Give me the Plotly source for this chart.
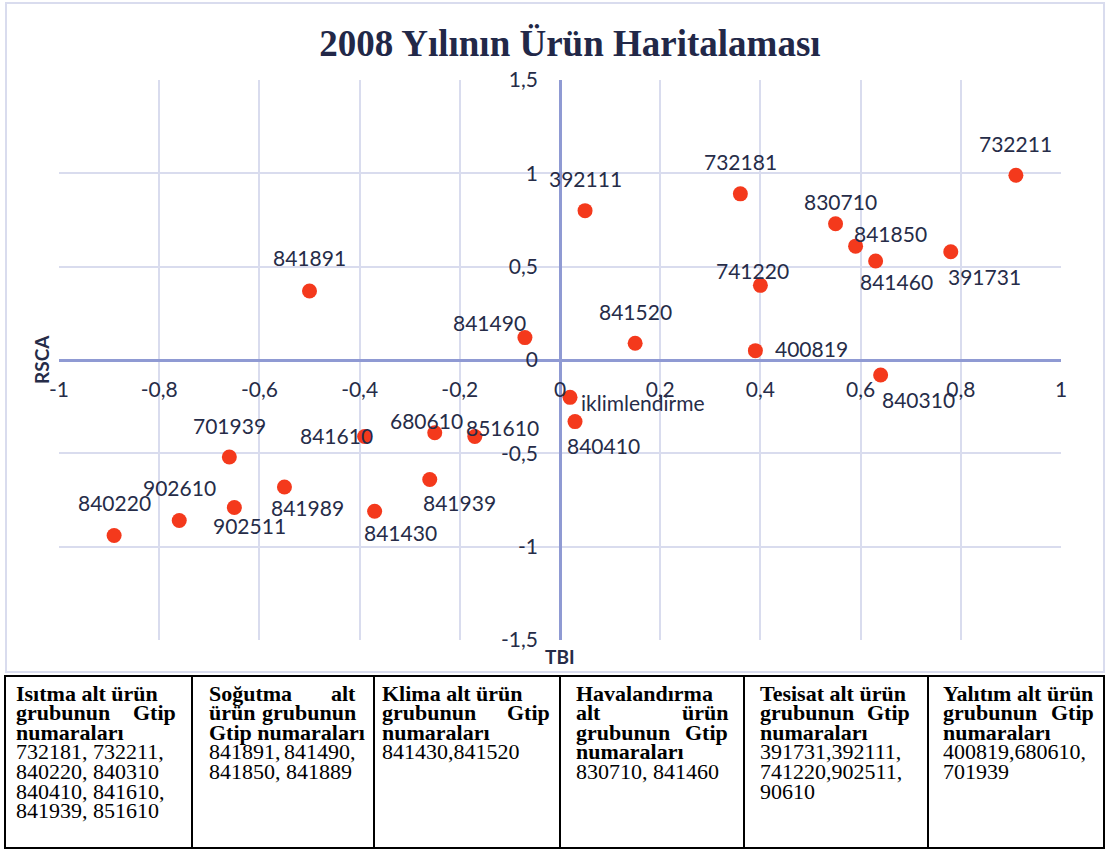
import plotly.graph_objects as go

# ---------------- data ----------------
codes = ["841891", "392111", "732181", "732211", "830710", "841850", "841460",
         "391731", "741220", "841490", "841520", "400819", "840310",
         "iklimlendirme", "840410", "701939", "841610", "680610", "851610",
         "841939", "841989", "902511", "902610", "840220", "841430"]
tbi = [-0.50, 0.05, 0.36, 0.91, 0.55, 0.59, 0.63,
       0.78, 0.40, -0.07, 0.15, 0.39, 0.64,
       0.02, 0.03, -0.66, -0.39, -0.25, -0.17,
       -0.26, -0.55, -0.65, -0.76, -0.89, -0.37]
rsca = [0.37, 0.80, 0.89, 0.99, 0.73, 0.61, 0.53,
        0.58, 0.40, 0.12, 0.09, 0.05, -0.08,
        -0.20, -0.33, -0.52, -0.41, -0.39, -0.41,
        -0.64, -0.68, -0.79, -0.86, -0.94, -0.81]

x_tick_vals = [-1, -0.8, -0.6, -0.4, -0.2, 0, 0.2, 0.4, 0.6, 0.8, 1]
x_tick_text = ["-1", "-0,8", "-0,6", "-0,4", "-0,2", "0", "0,2", "0,4", "0,6", "0,8", "1"]
y_tick_vals = [-1.5, -1, -0.5, 0, 0.5, 1, 1.5]
y_tick_text = ["-1,5", "-1", "-0,5", "0", "0,5", "1", "1,5"]

title_text = "2008 Yılının Ürün Haritalaması"
x_title = "TBI"
y_title = "RSCA"

table_headers = [
    ["Isıtma alt ürün", "grubunun Gtip", "numaraları"],
    ["Soğutma alt", "ürün grubunun", "Gtip numaraları"],
    ["Klima alt ürün", "grubunun Gtip", "numaraları"],
    ["Havalandırma", "alt ürün", "grubunun Gtip", "numaraları"],
    ["Tesisat alt ürün", "grubunun Gtip", "numaraları"],
    ["Yalıtım alt ürün", "grubunun Gtip", "numaraları"],
]
table_codes = [
    ["732181, 732211,", "840220, 840310", "840410, 841610,", "841939, 851610"],
    ["841891, 841490,", "841850, 841889"],
    ["841430,841520"],
    ["830710, 841460"],
    ["391731,392111,", "741220,902511,", "90610"],
    ["400819,680610,", "701939"],
]

# ---------------- styles / layout ----------------
W, H = 1106, 849
def px_x(p): return p / W
def px_y(p): return 1 - p / H

# label offsets in pixels (dx right, dy down)
label_offsets = [(0, -33), (0, -32), (0, -32), (0, -32), (5, -22), (35, -13), (21, 20),
                 (34, 25), (-8, -15), (-35, -15), (0, -32), (56, -2), (38, 25),
                 (73, 5), (28, 24), (0, -32), (-28, -1), (-8, -12), (28, -9),
                 (30, 23), (23, 21), (15, 18), (0, -33), (0, -33), (26, 21)]

TXT = "#262c48"
GRID = "#d9dcee"
ZERO = "#8f9ad3"
LABEL_FONT = dict(family="Lato", size=21, color=TXT)
TICK_FONT = dict(family="Lato", size=21, color=TXT)

fig = go.Figure()
fig.add_trace(go.Scatter(
    x=tbi, y=rsca, mode="markers",
    marker=dict(size=15, color="#f4391c", line=dict(width=0)),
    hoverinfo="text", text=codes, showlegend=False,
))

annotations = []
for c, xv, yv, (dx, dy) in zip(codes, tbi, rsca, label_offsets):
    annotations.append(dict(x=xv, y=yv, xref="x", yref="y", text=c, showarrow=False,
                            xanchor="center", yanchor="middle",
                            xshift=dx, yshift=-dy, font=LABEL_FONT))

# axis titles
annotations.append(dict(x=px_x(41), y=px_y(360), xref="paper", yref="paper", text=f"<b>{y_title}</b>",
                        xanchor="center", yanchor="middle",
                        showarrow=False, textangle=-90, font=dict(family="Lato", size=19, color=TXT)))
annotations.append(dict(x=px_x(560), y=px_y(656), xref="paper", yref="paper", text=f"<b>{x_title}</b>",
                        xanchor="center", yanchor="middle",
                        showarrow=False, font=dict(family="Lato", size=19, color=TXT)))

# table (justified lines: all header lines but the last; leading code lines per column)
col_borders = [5, 192, 374, 560, 744, 928, 1104]
text_left = [14, 207, 380, 574, 758, 941]
text_right = [178, 358, 552, 730, 912, 1096]
justify_codes = [0, 1, 0, 0, 0, 0]
table_top, table_bottom = 676, 848
first_line, line_h = 693, 19.6
TFONT = dict(family="Liberation Serif", size=22, color="black")


def add_line(ci, li, text, bold, justify):
    y = px_y(first_line + li * line_h)
    wrap = (lambda s: f"<b>{s}</b>") if bold else (lambda s: s)
    words = text.split(" ")
    if justify and len(words) == 2:
        annotations.append(dict(x=px_x(text_left[ci]), y=y, xref="paper", yref="paper",
                                xanchor="left", yanchor="middle", text=wrap(words[0]),
                                showarrow=False, font=TFONT))
        annotations.append(dict(x=px_x(text_right[ci]), y=y, xref="paper", yref="paper",
                                xanchor="right", yanchor="middle", text=wrap(words[1]),
                                showarrow=False, font=TFONT))
    else:
        annotations.append(dict(x=px_x(text_left[ci]), y=y, xref="paper", yref="paper",
                                xanchor="left", yanchor="middle", text=wrap(text),
                                showarrow=False, font=TFONT))


for ci, (hdr, cds) in enumerate(zip(table_headers, table_codes)):
    li = 0
    for k, t in enumerate(hdr):
        add_line(ci, li, t, True, k < len(hdr) - 1)
        li += 1
    for k, t in enumerate(cds):
        add_line(ci, li, t, False, k < justify_codes[ci])
        li += 1

shapes = []
# chart area border
shapes.append(dict(type="rect", xref="paper", yref="paper", x0=px_x(6), x1=px_x(1104),
                   y0=px_y(672), y1=px_y(3), line=dict(color=GRID, width=2), layer="below"))
# table frame
shapes.append(dict(type="rect", xref="paper", yref="paper", x0=px_x(col_borders[0]), x1=px_x(col_borders[-1]),
                   y0=px_y(table_bottom), y1=px_y(table_top), line=dict(color="black", width=2)))
for b in col_borders[1:-1]:
    shapes.append(dict(type="line", xref="paper", yref="paper", x0=px_x(b), x1=px_x(b),
                       y0=px_y(table_bottom), y1=px_y(table_top), line=dict(color="black", width=2)))

x_dom = [px_x(59), px_x(1061)]
y_dom = [px_y(640), px_y(80)]

fig.update_layout(
    width=W, height=H, autosize=False,
    margin=dict(l=0, r=0, t=0, b=0, autoexpand=False),
    paper_bgcolor="white", plot_bgcolor="white",
    title=dict(text=f"<b>{title_text}</b>", x=px_x(570), y=px_y(43), xanchor="center", yanchor="middle",
               font=dict(family="Liberation Serif", size=37, color="#222848")),
    xaxis=dict(domain=x_dom, range=[-1, 1], anchor="free", position=(y_dom[0] + y_dom[1]) / 2,
               tickvals=x_tick_vals, ticktext=x_tick_text, showgrid=True, gridcolor=GRID, gridwidth=2,
               zeroline=True, zerolinecolor=ZERO, zerolinewidth=3, showline=False, ticks="",
               ticklabelstandoff=15, tickfont=TICK_FONT, fixedrange=True, automargin=False),
    yaxis=dict(domain=y_dom, range=[-1.5, 1.5], anchor="free", position=(x_dom[0] + x_dom[1]) / 2,
               tickvals=y_tick_vals, ticktext=y_tick_text, showgrid=True, gridcolor=GRID, gridwidth=2,
               zeroline=True, zerolinecolor=ZERO, zerolinewidth=3, showline=False, ticks="",
               ticklabelstandoff=22, tickfont=TICK_FONT, fixedrange=True, automargin=False),
    annotations=annotations,
    shapes=shapes,
)

fig.write_html("out.html", config={"displayModeBar": False},
               post_script="document.body.style.margin='0px';")
